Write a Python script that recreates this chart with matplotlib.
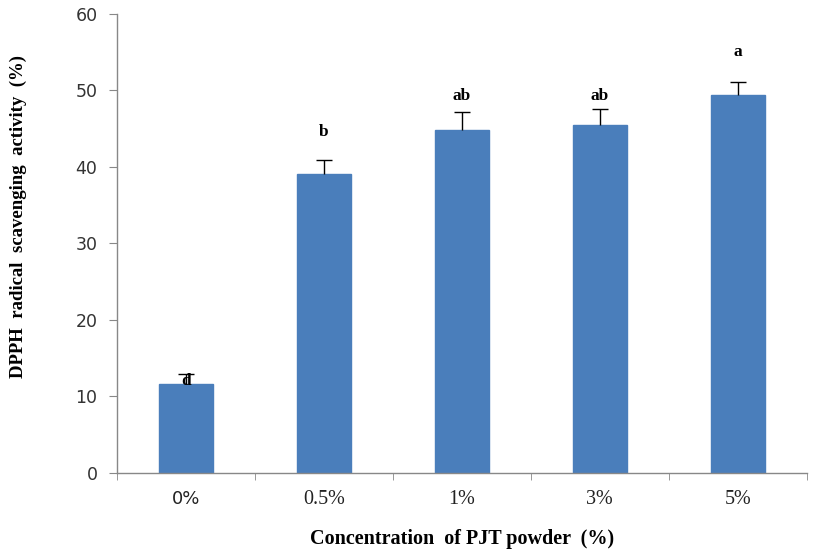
import matplotlib
matplotlib.use("Agg")
import matplotlib.pyplot as plt
import numpy as np

categories = ["0%", "0.5%", "1%", "3%", "5%"]
values = [11.6, 39.1, 44.8, 45.5, 49.4]
errors = [1.3, 1.8, 2.4, 2.1, 1.7]
letters = ["d", "b", "ab", "ab", "a"]
letter_y = [12.0, 44.6, 49.3, 49.3, 55.0]

fig = plt.figure(figsize=(8.14, 5.51), dpi=100)
ax = fig.add_axes([0.1437, 0.1416, 0.8473, 0.833])

x = np.arange(len(categories))
vals = np.array(values)
tops = vals + np.array(errors)
ax.bar(x, vals, width=0.39, color="#4a7ebb", edgecolor="#4a7ebb", zorder=2)
ax.vlines(x, vals, tops, colors="black", linewidth=1.0, zorder=3)
ax.plot(x, tops, linestyle="none", marker="_", markersize=12,
        markeredgewidth=1.0, color="black", zorder=3)
for xi, lab, ly in zip(x, letters, letter_y):
    ax.text(xi, ly, lab, ha="center", va="center", fontsize=12.5,
            fontweight="bold", family="Liberation Serif", zorder=4)

ax.set_xlim(-0.5, len(categories) - 0.5)
ax.set_ylim(0, 60)
ax.set_yticks(np.arange(0, 61, 10))
ax.set_xticks(x)
ax.set_xticklabels(categories, family="Liberation Serif", fontsize=14.5)
xt = ax.get_xticklabels()
xt[0].set_family("DejaVu Sans")
xt[0].set_fontsize(13)
ax.set_xticks(np.arange(-0.5, len(categories), 1.0), minor=True)
ax.tick_params(axis="x", which="major", length=0, pad=12, labelcolor="#222222")
ax.tick_params(axis="x", which="minor", length=5, color="#888888", direction="out")
ax.tick_params(axis="y", length=6, color="#888888", labelsize=12.5,
               labelcolor="#333333", pad=8)
for lab in ax.get_yticklabels():
    lab.set_family("DejaVu Sans")

for s in ["top", "right"]:
    ax.spines[s].set_visible(False)
for s in ["left", "bottom"]:
    ax.spines[s].set_color("#888888")
    ax.spines[s].set_linewidth(1.0)

ax.set_xlabel("Concentration  of PJT powder  (%)", family="Liberation Serif",
              fontsize=14.5, fontweight="bold")
ax.xaxis.set_label_coords(0.5, -0.122)
ax.set_ylabel("DPPH  radical  scavenging  activity  (%)", family="Liberation Serif",
              fontsize=13.5, fontweight="bold")
ax.yaxis.set_label_coords(-0.130, 0.558)

fig.savefig("out.png", dpi=100)
